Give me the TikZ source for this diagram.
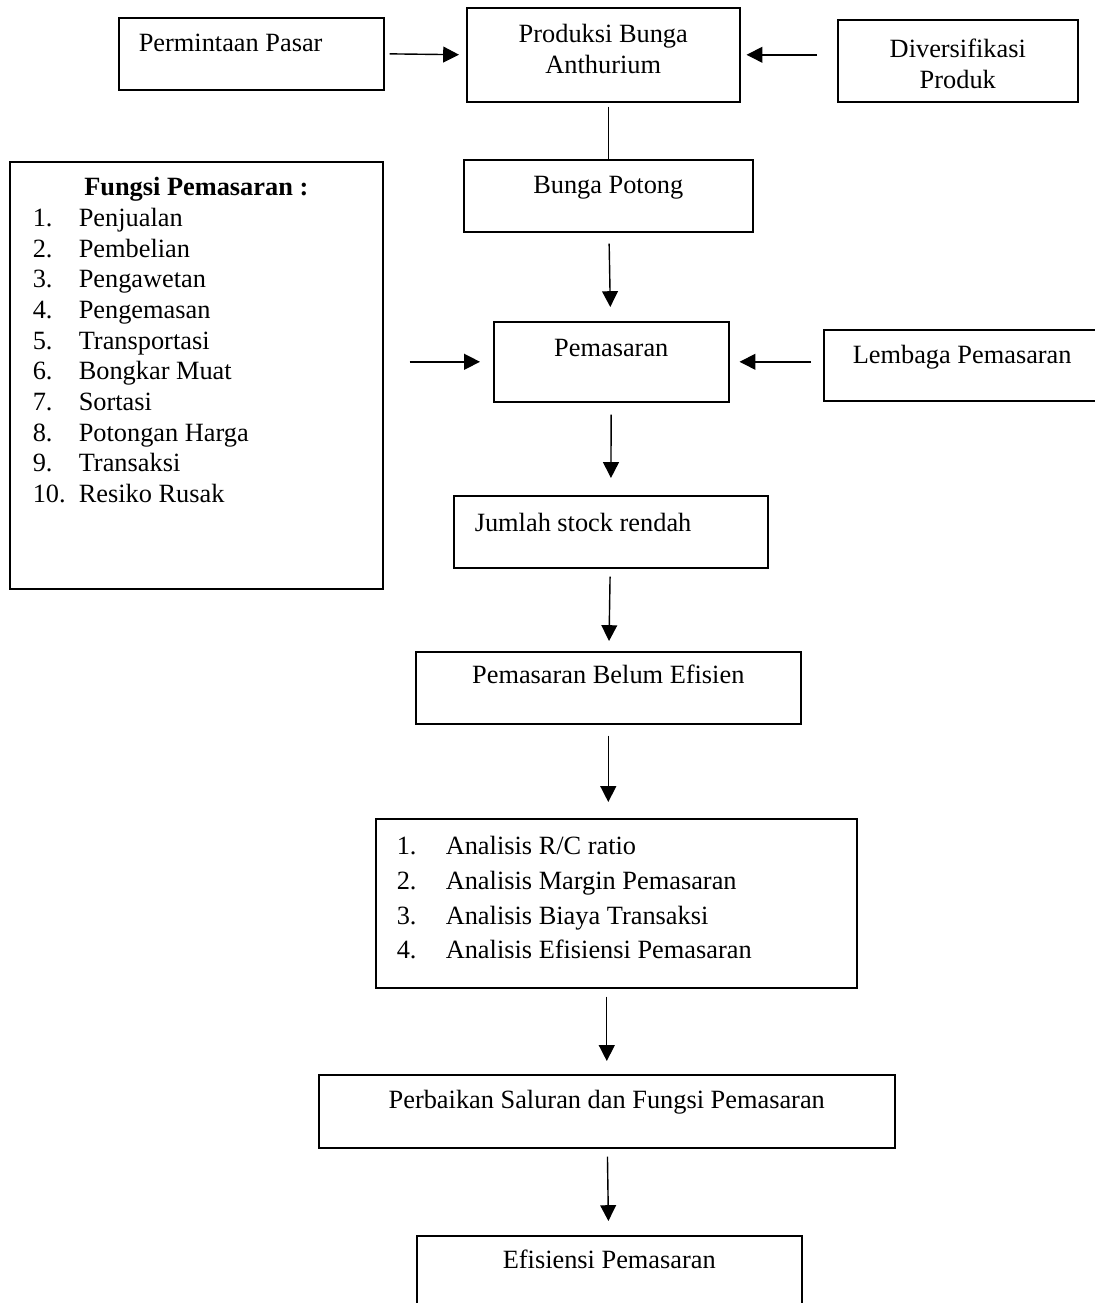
\documentclass[tikz,border=0pt]{standalone}
\usepackage{fontspec}
\setmainfont{Liberation Serif}
\usetikzlibrary{arrows.meta}

\newlength\px
\setlength\px{0.02cm}
\newcommand{\tiang}{\rule{0pt}{12pt}}
\newcommand{\tengah}[4]{\parbox[t][#2\px][t]{#1\px}{\vspace*{#3\px}\centering\tiang #4}}
\newcommand{\kiri}[5]{\parbox[t][#2\px][t]{#1\px}{\vspace*{#3\px}\raggedright\hspace*{#4\px}\tiang #5}}
\newcommand{\butir}[4]{\hspace*{#1\px}\makebox[#2\px][l]{#3.}#4}

\begin{document}
\begin{tikzpicture}[x=0.02cm, y=-0.02cm,
  blok/.style={draw, rectangle, inner sep=0pt, anchor=north west, line width=0.9pt,
    font=\fontsize{15}{17.2}\selectfont},
  panah/.style={-{Triangle[length=9pt,width=9pt]}, line width=0.8pt},
  garis/.style={line width=0.8pt}]
  \useasboundingbox (0,0) rectangle (1095,1303);

  \node[blok] (permintaan) at (118,17) {\kiri{265}{72}{12.9}{20}{Permintaan Pasar}};
  \node[blok] (produksi) at (466,7) {\tengah{273}{94}{13.9}{Produksi Bunga\\Anthurium}};
  \node[blok] (diversifikasi) at (837,19) {\tengah{240}{82}{16.9}{Diversifikasi\\Produk}};
  \node[blok] (bunga) at (463,159) {\tengah{289}{72}{12.9}{Bunga Potong}};

  % fungsi pemasaran
  \node[blok] (fungsi) at (9,161) {\parbox[t][427\px][t]{373\px}{%
    \fontsize{15}{17.46}\selectfont\setlength\parskip{0pt}\vspace*{12.9\px}%
    {\centering\tiang\textbf{Fungsi Pemasaran :}\par}
    \raggedright
    \butir{23}{46}{1}{Penjualan}\\
    \butir{23}{46}{2}{Pembelian}\\
    \butir{23}{46}{3}{Pengawetan}\\
    \butir{23}{46}{4}{Pengemasan}\\
    \butir{23}{46}{5}{Transportasi}\\
    \butir{23}{46}{6}{Bongkar Muat}\\
    \butir{23}{46}{7}{Sortasi}\\
    \butir{23}{46}{8}{Potongan Harga}\\
    \butir{23}{46}{9}{Transaksi}\\
    \butir{23}{46}{10}{Resiko Rusak}}};

  \node[blok] (pemasaran) at (493,321) {\tengah{235}{80}{13.9}{Pemasaran}};
  \node[blok] (lembaga) at (823,329) {\kiri{290}{71}{12.9}{29}{Lembaga Pemasaran}};
  \node[blok] (jumlah) at (453,495) {\kiri{314}{72}{14.9}{21}{Jumlah stock rendah}};
  \node[blok] (belum) at (415,651) {\tengah{385}{72}{10.9}{Pemasaran Belum Efisien}};

  % analisis
  \node[blok] (analisis) at (375,818) {\parbox[t][169\px][t]{481\px}{%
    \fontsize{15}{19.74}\selectfont\vspace*{14.9\px}\raggedright
    \tiang\butir{21}{49}{1}{Analisis R/C ratio}\\
    \butir{21}{49}{2}{Analisis Margin Pemasaran}\\
    \butir{21}{49}{3}{Analisis Biaya Transaksi}\\
    \butir{21}{49}{4}{Analisis Efisiensi Pemasaran}}};

  \node[blok] (perbaikan) at (318,1074) {\tengah{576}{73}{12.9}{Perbaikan Saluran dan Fungsi Pemasaran}};
  \node[blok] (efisiensi) at (416,1235) {\tengah{385}{90}{11.9}{Efisiensi Pemasaran}};

  % arrows
  \draw[panah, shorten <=5\px, shorten >=7\px] (permintaan.east) -- (produksi.west);
  \draw[panah, shorten <=20\px, shorten >=6\px] (diversifikasi.west |- produksi.east) -- (produksi.east);
  \draw[garis, shorten <=4\px] (produksi.south -| bunga.north) -- (bunga.north);
  \draw[panah, shorten <=11\px, shorten >=14\px] (bunga) -- (pemasaran);
  \draw[panah, shorten <=26\px, shorten >=13\px] (fungsi.east |- pemasaran.west) -- (pemasaran.west);
  \draw[panah, shorten <=12\px, shorten >=10\px] (lembaga.west |- pemasaran.east) -- (pemasaran.east);
  \draw[panah, shorten <=12\px, shorten >=17\px] (pemasaran) -- (jumlah);
  \draw[panah, shorten <=8\px, shorten >=10\px] (jumlah) -- (belum);
  \draw[panah, shorten <=11\px, shorten >=16\px] (belum.south) -- (belum.south |- analisis.north);
  \draw[panah, shorten <=8\px, shorten >=13\px] (analisis.south -| perbaikan.north) -- (perbaikan.north);
  \draw[panah, shorten <=8\px, shorten >=14\px] (perbaikan) -- (efisiensi);
\end{tikzpicture}
\end{document}
